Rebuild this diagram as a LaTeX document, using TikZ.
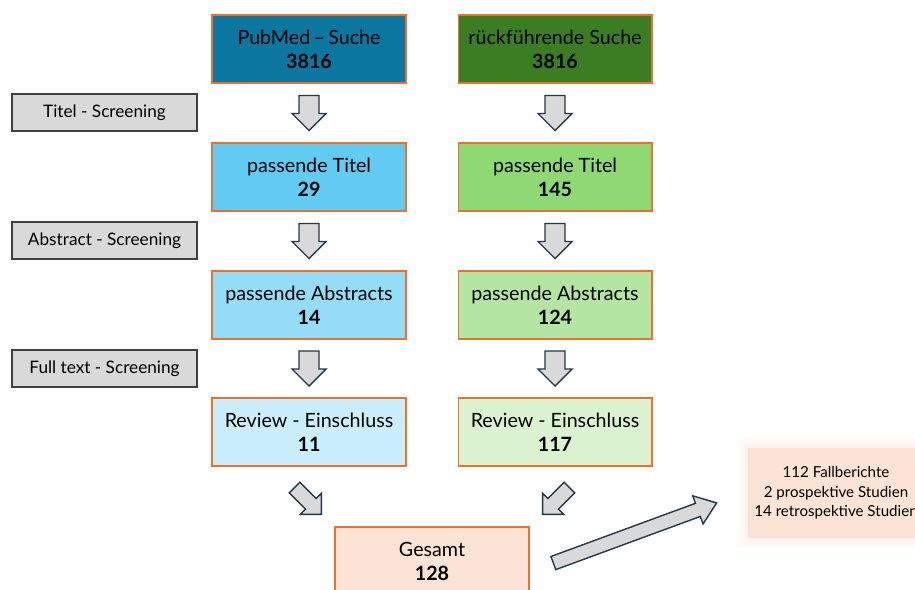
\documentclass[tikz,border=0pt]{standalone}
\usepackage{fontspec}
\setmainfont{Lato}
\usetikzlibrary{calc,backgrounds}

\definecolor{boxline}{HTML}{E97132}
\definecolor{pubmedfill}{HTML}{0B769F}
\definecolor{rueckfill}{HTML}{3B7D23}
\definecolor{blueA}{HTML}{61CBF4}
\definecolor{blueB}{HTML}{95DCF7}
\definecolor{blueC}{HTML}{CAEEFB}
\definecolor{greenA}{HTML}{8ED973}
\definecolor{greenB}{HTML}{B4E5A2}
\definecolor{greenC}{HTML}{DAF2D0}
\definecolor{peach}{HTML}{FBE3D6}
\definecolor{screengray}{HTML}{D9D9D9}
\definecolor{screenline}{HTML}{404040}
\definecolor{arrowline}{HTML}{23394A}

\tikzset{
  pics/blockarrow/.style args={#1/#2/#3/#4}{code={
    \draw[arrowbox] ({-#1/2},-#2) -- ({#1/2-#4},-#2) -- ({#1/2-#4},-#3) -- ({#1/2},0)
      -- ({#1/2-#4},#3) -- ({#1/2-#4},#2) -- ({-#1/2},#2) -- cycle;
  }}
}

\begin{document}
\begin{tikzpicture}[x=0.02cm,y=-0.02cm,
  flowbox/.style={draw=boxline, line width=0.6pt, minimum width=3.88cm, minimum height=1.36cm,
    align=center, inner sep=0pt, font=\fontsize{11.2}{13.7}\selectfont},
  screenbox/.style={draw=screenline, fill=screengray, line width=0.6pt, minimum width=3.7cm,
    minimum height=0.74cm, inner sep=0pt, font=\fontsize{9.8}{11}\selectfont},
  infobox/.style={fill=peach, minimum width=3.52cm, minimum height=1.8cm, align=center,
    inner sep=0pt, font=\fontsize{8.6}{11}\selectfont},
  arrowbox/.style={draw=arrowline, fill=screengray, line width=0.8pt, line join=miter}]

    \useasboundingbox (0,0) rectangle (915,589);
    \clip (0,0) rectangle (915,589);

    % search columns
    \node[flowbox, fill=pubmedfill] (pubmed) at (309,49) {PubMed\,–\,Suche\\\textbf{3816}};
    \node[flowbox, fill=rueckfill] (rueck) at (555,49) {rückführende Suche\\\textbf{3816}};

    \node[flowbox, fill=blueA] (titelA) at (309,177) {passende Titel\\\textbf{29}};
    \node[flowbox, fill=greenA] (titelB) at (555,177) {passende Titel\\\textbf{145}};

    \node[flowbox, fill=blueB] (abstractA) at (309,305) {passende Abstracts\\\textbf{14}};
    \node[flowbox, fill=greenB] (abstractB) at (555,305) {passende Abstracts\\\textbf{124}};

    \node[flowbox, fill=blueC] (reviewA) at (309,432) {Review - Einschluss\\\textbf{11}};
    \node[flowbox, fill=greenC] (reviewB) at (555,432) {Review - Einschluss\\\textbf{117}};

    \node[flowbox, fill=peach] (gesamt) at (432,561) {Gesamt\\\textbf{128}};

    % screening steps
    \node[screenbox] (titelscreen) at (104.5,112.5) {Titel - Screening};
    \node[screenbox] (abstractscreen) at (104.5,240.5) {Abstract - Screening};
    \node[screenbox] (fullscreen) at (104.5,368.5) {Full text - Screening};

    % result
    \node[infobox] (studien) at (836,493) {112 Fallberichte\\2 prospektive Studien\\14 retrospektive Studien};
    \begin{scope}[on background layer]
        \foreach \g in {2,4,...,10}
            \fill[peach, opacity=0.12] ($(studien.south west)+(-\g,\g)$) rectangle ($(studien.north east)+(\g,-\g)$);
    \end{scope}

    % block arrows
    \pic[rotate=-90] at ($(pubmed.south)!.5!(titelA.north)$) {blockarrow=35/10/17/17};
    \pic[rotate=-90] at ($(rueck.south)!.5!(titelB.north)$) {blockarrow=35/10/17/17};
    \pic[rotate=-90] at ($(titelA.south)!.5!(abstractA.north)$) {blockarrow=35/10/17/17};
    \pic[rotate=-90] at ($(titelB.south)!.5!(abstractB.north)$) {blockarrow=35/10/17/17};
    \pic[rotate=-90] at ($(abstractA.south)!.5!(reviewA.north)$) {blockarrow=35/10/17/17};
    \pic[rotate=-90] at ($(abstractB.south)!.5!(reviewB.north)$) {blockarrow=35/10/17/17};

    \pic[rotate=-45] at (308,501) {blockarrow=38/7.5/15/15};
    \pic[rotate=-135] at (556,501) {blockarrow=38/7.5/15/15};
    \pic[rotate=20.2] at (635,533) {blockarrow=174/7/15/20};

\end{tikzpicture}
\end{document}
